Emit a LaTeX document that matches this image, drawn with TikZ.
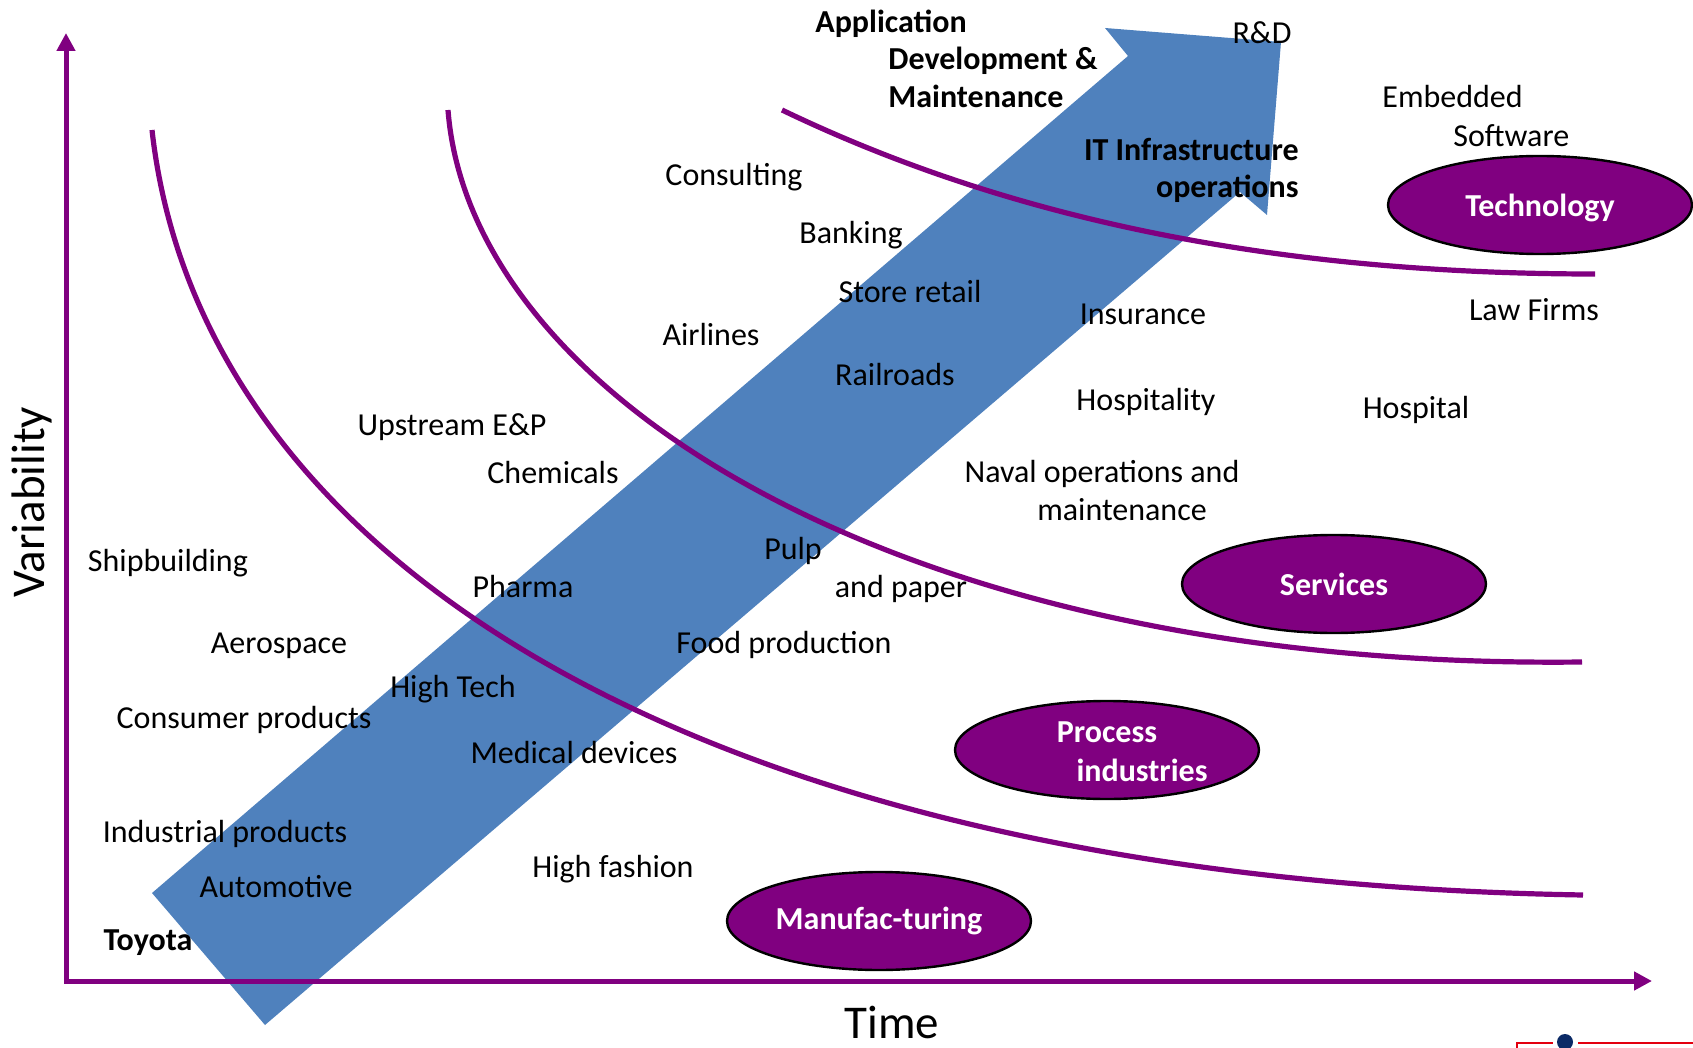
\documentclass[tikz,border=0pt]{standalone}
\usepackage{fontspec}
\setmainfont{Carlito}
\usetikzlibrary{arrows.meta,shapes.geometric}
\definecolor{vio}{HTML}{800080}
\definecolor{barblue}{HTML}{4F81BD}
\definecolor{logoblue}{HTML}{0B2A66}
\definecolor{logored}{HTML}{E3000F}
\begin{document}
\begin{tikzpicture}[x=0.5pt,y=-0.5pt,
  lbl/.style={font=\fontsize{16}{19}\selectfont, inner sep=0pt, text height=1.22em, text depth=0.15em},
  blbl/.style={lbl, font=\fontsize{16}{19}\selectfont\bfseries},
  wlbl/.style={blbl, text=white},
  oval/.style={ellipse, draw=black, line width=1.2pt, fill=vio, inner sep=0pt,
    minimum width=152pt, minimum height=49pt, text=white,
    font=\fontsize{16}{19}\selectfont\bfseries},
  curve/.style={draw=vio, line width=2.6pt},
  axis/.style={draw=vio, line width=2.5pt, {Triangle[length=9pt,width=9pt]}-{Triangle[length=9pt,width=9pt]}},
  big/.style={font=\fontsize{23.5}{28}\selectfont, inner sep=0pt}
]
\path[use as bounding box] (0,0) rectangle (1693,1048);

% big blue arrow
\fill[barblue] (152,893) -- (1128,56) -- (1105,28) -- (1281,42) -- (1267,215)
  -- (1240,192) -- (265,1025) -- cycle;

% curves
\draw[curve] (152,130) .. controls (200,560) and (700,880) .. (1583,895);
\draw[curve] (448,110) .. controls (470,395) and (900,670) .. (1582,662);
\draw[curve] (782,110) .. controls (990,210) and (1250,274) .. (1595,274);

% axes
\coordinate (O) at (66,981);
\coordinate (ytop) at (66,33);
\coordinate (xend) at (1652,981);
\draw[axis] (ytop) -- (O) -- (xend);

% axis titles
\node[big] (time) at (892,1022) {Time};
\node[big, rotate=90] (var) at (32,502) {Variability};

% ellipses
\node[oval] (tech) at (1540,205) {};
\node[wlbl] (techt) at (1540,206) {Technology};
\node[oval] (serv) at (1334,584) {Services};
\node[oval] (proc) at (1107,750) {};
\node[wlbl] (proc1) at (1107,732) {Process};
\node[wlbl] (proc2) at (1142,771) {industries};
\node[oval] (manu) at (879,921) {Manufac-turing};

% bold labels
\node[blbl, anchor=west] (app) at (815,22) {Application};
\node[blbl, anchor=west] (dev) at (888,59) {Development \&};
\node[blbl, anchor=west] (maint) at (888,97) {Maintenance};
\node[blbl, anchor=east] (it1) at (1299,150) {IT Infrastructure};
\node[blbl, anchor=east] (it2) at (1299,187) {operations};
\node[blbl] (toyota) at (148,940) {Toyota};

% plain labels
\node[lbl] (rd) at (1262,33) {R\&D};
\node[lbl, anchor=west] (emb) at (1382,97) {Embedded};
\node[lbl, anchor=west] (soft) at (1453,136) {Software};
\node[lbl] (cons) at (734,175) {Consulting};
\node[lbl] (bank) at (851,233) {Banking};
\node[lbl] (store) at (910,292) {Store retail};
\node[lbl] (air) at (711,335) {Airlines};
\node[lbl] (ins) at (1143,314) {Insurance};
\node[lbl] (law) at (1534,310) {Law Firms};
\node[lbl] (rail) at (895,375) {Railroads};
\node[lbl] (hosp) at (1146,400) {Hospitality};
\node[lbl] (hospital) at (1416,408) {Hospital};
\node[lbl] (up) at (452,425) {Upstream E\&P};
\node[lbl] (chem) at (553,473) {Chemicals};
\node[lbl] (naval1) at (1102,472) {Naval operations and};
\node[lbl] (naval2) at (1122,510) {maintenance};
\node[lbl] (ship) at (168,561) {Shipbuilding};
\node[lbl] (pulp) at (793,549) {Pulp};
\node[lbl] (paper) at (901,587) {and paper};
\node[lbl] (pharma) at (523,587) {Pharma};
\node[lbl] (aero) at (279,643) {Aerospace};
\node[lbl] (food) at (784,643) {Food production};
\node[lbl] (htech) at (453,687) {High Tech};
\node[lbl] (consp) at (244,718) {Consumer products};
\node[lbl] (med) at (574,753) {Medical devices};
\node[lbl] (indp) at (225,832) {Industrial products};
\node[lbl] (fash) at (613,867) {High fashion};
\node[lbl] (auto) at (276,887) {Automotive};

% logo fragment bottom right
\draw[logored, line width=1.2pt] (1517,1048) -- (1517,1043) -- (1553,1043);
\draw[logored, line width=1.2pt] (1578,1043) -- (1693,1043);
\fill[logoblue] (1565,1042) circle[radius=4pt];
\end{tikzpicture}
\end{document}
